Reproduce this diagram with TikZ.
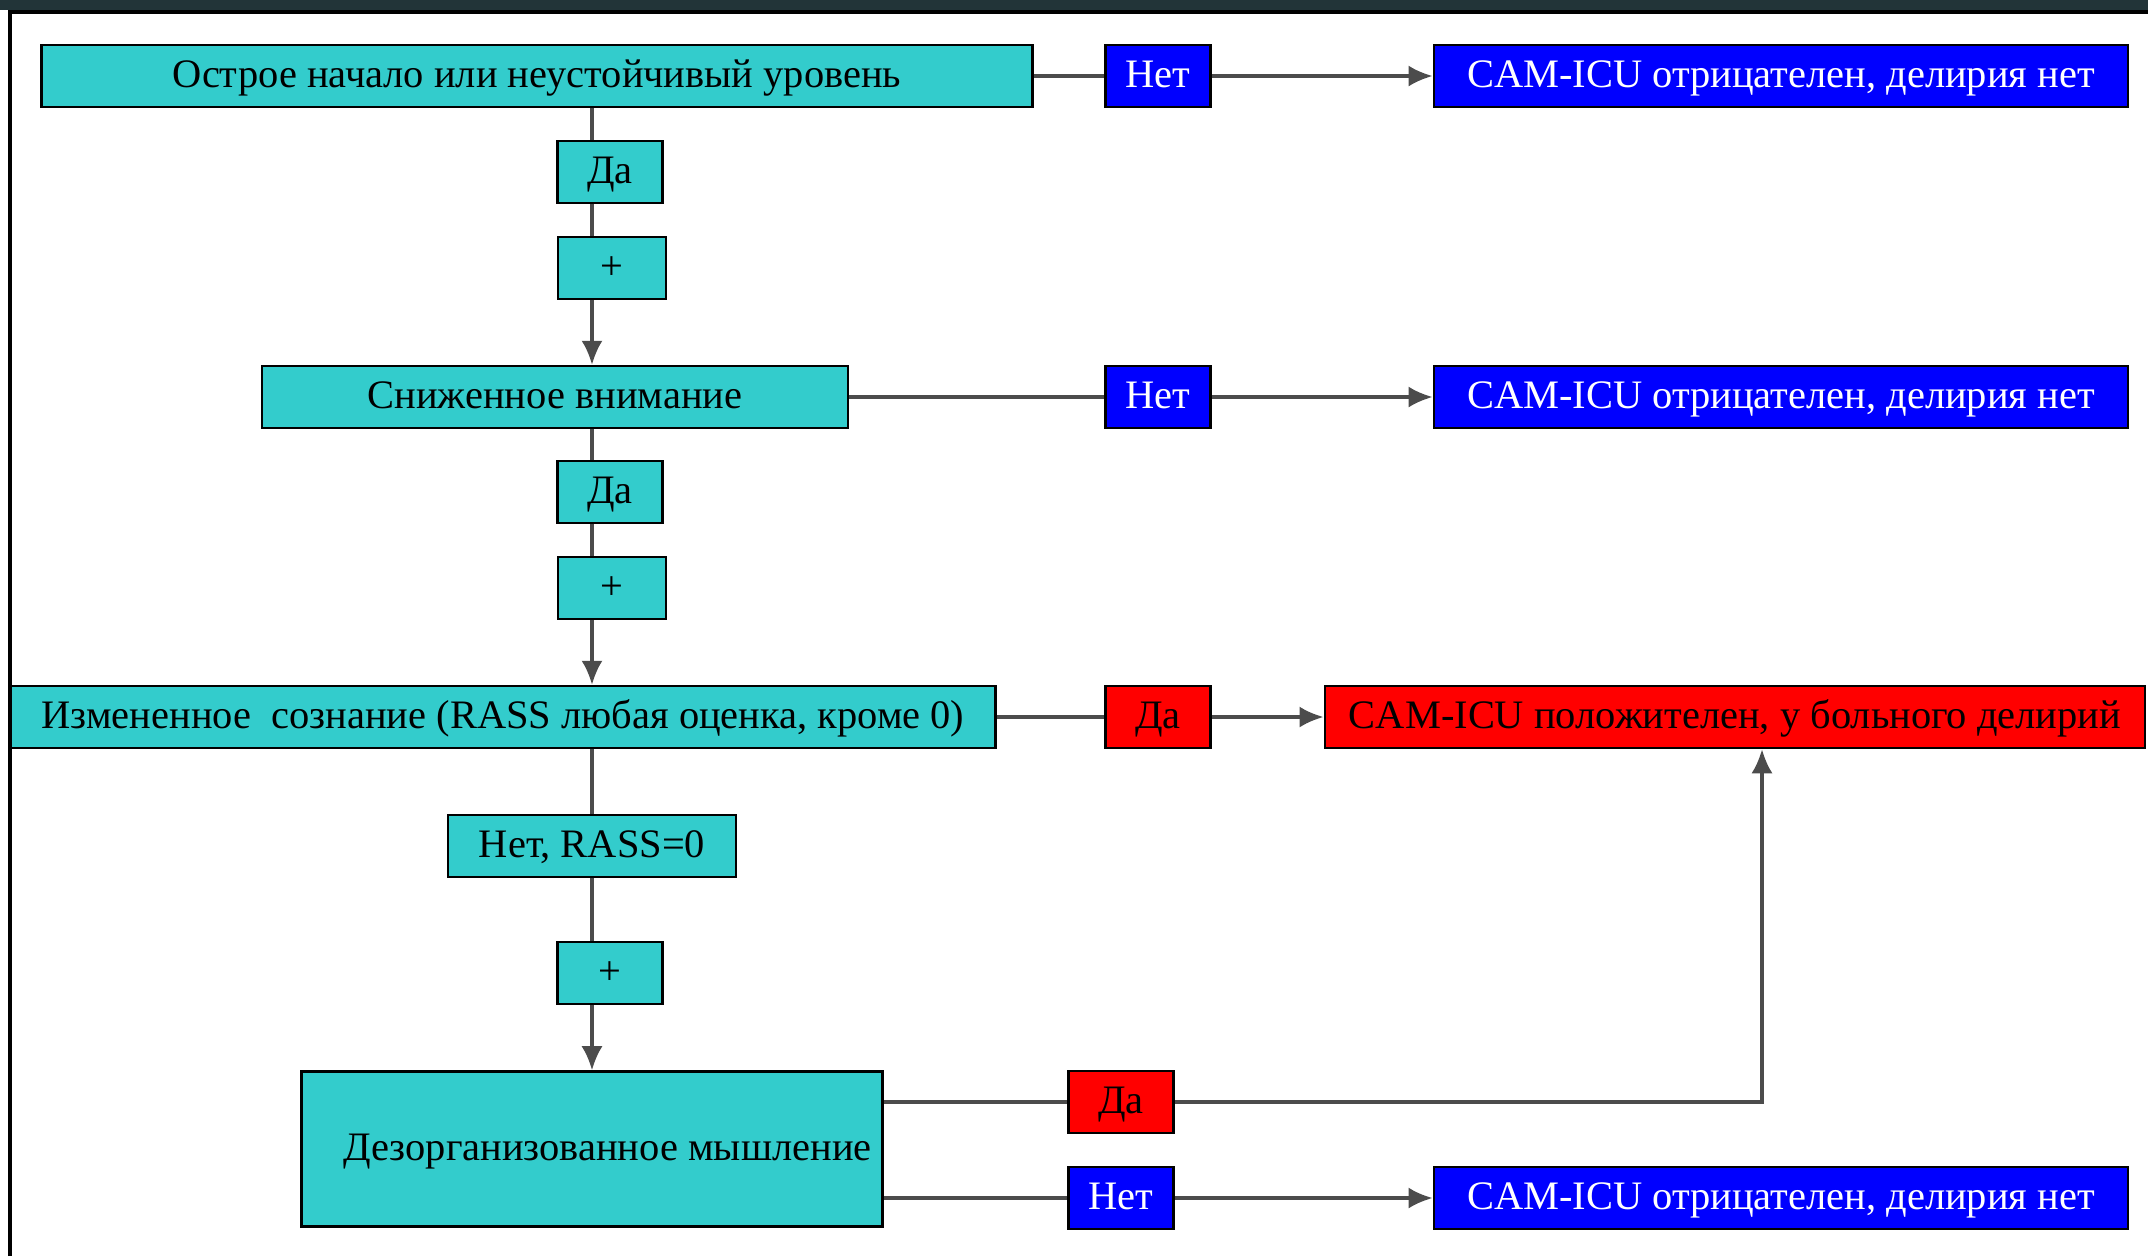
\documentclass[tikz,border=0pt]{standalone}
\usepackage{fontspec}
\setmainfont{Liberation Serif}
\usetikzlibrary{arrows.meta}
\definecolor{boxcyan}{RGB}{51,204,204}
\definecolor{boxblue}{RGB}{0,0,255}
\definecolor{boxred}{RGB}{255,0,0}
\definecolor{strip}{RGB}{34,52,56}
\tikzset{
  base/.style={draw=black, line width=0.7pt, inner sep=0pt, text height=0.72em, text depth=0.05em, font=\fontsize{11.5}{13}\selectfont},
  cyanbox/.style={base, fill=boxcyan, text=black},
  nobox/.style={base, fill=boxblue, text=white},
  yesbox/.style={base, fill=boxred, text=black},
  small/.style={minimum width=1.05cm, minimum height=0.62cm},
  wide/.style={minimum width=6.94cm, minimum height=0.62cm},
  line/.style={draw=black!70, line width=0.9pt},
  arr/.style={line, -{Latex[length=0.24cm,width=0.21cm]}}
}
\begin{document}
\begin{tikzpicture}[x=0.01cm, y=-0.01cm]
\useasboundingbox (0,0) rectangle (2148,1256);
% slide background and frame
\fill[strip] (0,0) rectangle (2148,10);
\draw[line width=1.1pt] (10,1256) -- (10,12) -- (2148,12);
\coordinate (axis) at (592,0);
% first check
\node[cyanbox, minimum width=9.9cm, minimum height=0.62cm] (box1) at (537,76) {Острое начало или неустойчивый уровень};
\node[nobox, small] (net1) at (1158,76) {Нет};
\node[nobox, wide] (neg1) at (1781,76) {CAM-ICU отрицателен, делирия нет};
\node[cyanbox, small] (da1) at (610,172) {Да};
\node[cyanbox, small, minimum width=1.08cm] (plus1) at (612,268) {+};
% second check
\node[cyanbox, minimum width=5.86cm, minimum height=0.62cm] (box2) at (555,397) {Сниженное внимание};
\node[nobox, small] (net2) at (1158,397) {Нет};
\node[nobox, wide] (neg2) at (1781,397) {CAM-ICU отрицателен, делирия нет};
\node[cyanbox, small] (da2) at (610,492) {Да};
\node[cyanbox, small, minimum width=1.08cm] (plus2) at (612,588) {+};
% third check
\node[cyanbox, minimum width=9.84cm, minimum height=0.62cm] (box3) at (503,717) {Измененное\ \ сознание (RASS любая оценка, кроме 0)};
\node[yesbox, small] (da3) at (1158,717) {Да};
\node[yesbox, minimum width=8.2cm, minimum height=0.62cm] (pos) at (1735,717) {CAM-ICU положителен, у больного делирий};
\node[cyanbox, minimum width=2.88cm, minimum height=0.62cm] (rass) at (592,846) {Нет, RASS=0};
\node[cyanbox, small] (plus3) at (610,973) {+};
% fourth check
\node[cyanbox, minimum width=5.81cm, minimum height=1.55cm] (box4) at (592,1149) {\makebox[5.59cm][r]{Дезорганизованное мышление}};
\node[yesbox, small] (da4) at (1121,1102) {Да};
\node[nobox, small] (net4) at (1121,1198) {Нет};
\node[nobox, wide] (neg4) at (1781,1198) {CAM-ICU отрицателен, делирия нет};
\coordinate (turn) at (1762,1102);
% connectors
\draw[line] (box1.east) -- (net1.west);
\draw[arr] (net1.east) -- (neg1.west);
\draw[line] (box1.south -| axis) -- (da1.north -| axis);
\draw[line] (da1.south -| axis) -- (plus1.north -| axis);
\draw[arr] (plus1.south -| axis) -- (box2.north -| axis);
\draw[line] (box2.east) -- (net2.west);
\draw[arr] (net2.east) -- (neg2.west);
\draw[line] (box2.south -| axis) -- (da2.north -| axis);
\draw[line] (da2.south -| axis) -- (plus2.north -| axis);
\draw[arr] (plus2.south -| axis) -- (box3.north -| axis);
\draw[line] (box3.east) -- (da3.west);
\draw[arr] (da3.east) -- (pos.west);
\draw[line] (box3.south -| axis) -- (rass.north -| axis);
\draw[line] (rass.south -| axis) -- (plus3.north -| axis);
\draw[arr] (plus3.south -| axis) -- (box4.north -| axis);
\draw[line] (da4.west -| box4.east) -- (da4.west);
\draw[arr] (da4.east) -- (turn) -- (turn |- pos.south);
\draw[line] (net4.west -| box4.east) -- (net4.west);
\draw[arr] (net4.east) -- (neg4.west);
\end{tikzpicture}
\end{document}
